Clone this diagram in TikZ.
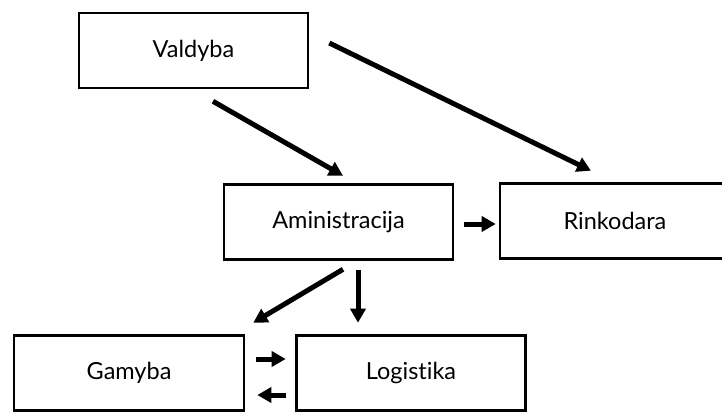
\documentclass[tikz,border=0pt]{standalone}
\usepackage{fontspec}
\setmainfont{Lato}[Ligatures={NoCommon,NoRare}]
\usepackage{tikz}
\usetikzlibrary{positioning,arrows.meta}

\begin{document}
\begin{tikzpicture}[
  x=1pt, y=-1pt,
  every node/.style={font=\fontsize{23.5}{28}\selectfont},
  unit/.style={rectangle, draw=black, line width=2.6pt, minimum width=229pt,
               minimum height=75pt, inner sep=0pt},
  flow/.style={-{Triangle[length=14pt,width=15pt]}, line width=5pt, color=black}
]
  \useasboundingbox (0,0) rectangle (722,412);

  \node[unit] (valdyba) at (193.5,50.5) {Valdyba};
  \node[unit] (admin) at (338.5,222) {Aministracija};
  \node[unit, minimum width=230pt] (rinko) at (615,221) {Rinkodara};
  \node[unit, minimum width=230pt] (gamyba) at (129,373) {Gamyba};
  \node[unit] (logist) at (411,373) {Logistika};

  % virsutines rodykles
  \draw[flow] ([xshift=19.5pt,yshift=-12pt]valdyba.south) -- ([xshift=4.5pt,yshift=7.5pt]admin.north);
  \draw[flow] ([xshift=20pt,yshift=7.5pt]valdyba.east) -- ([xshift=-24pt,yshift=11.5pt]rinko.north);
  \draw[flow] ([xshift=10pt,yshift=-2pt]admin.east) -- ([xshift=-3pt,yshift=-3pt]rinko.west);

  % apatines rodykles
  \draw[flow] ([xshift=4.5pt,yshift=-8.5pt]admin.south) -- ([xshift=8pt,yshift=11.5pt]gamyba.north east);
  \draw[flow] ([xshift=19.5pt,yshift=-9.5pt]admin.south) -- ([xshift=-53pt,yshift=11.5pt]logist.north);
  \draw[flow] ([xshift=11pt,yshift=14pt]gamyba.east) -- ([xshift=-9.5pt,yshift=14pt]logist.west);
  \draw[flow] ([xshift=-9.5pt,yshift=-22pt]logist.west) -- ([xshift=12pt,yshift=-22pt]gamyba.east);
\end{tikzpicture}
\end{document}
